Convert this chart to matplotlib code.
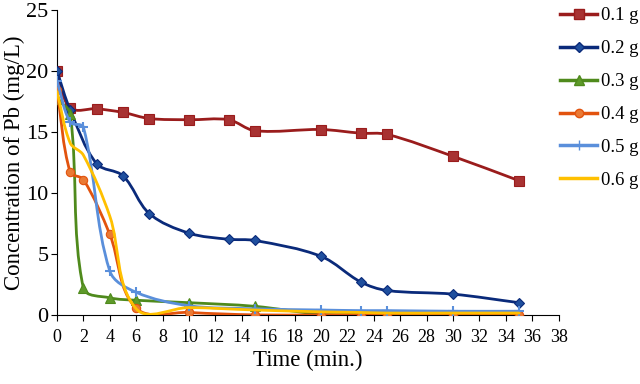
import matplotlib
matplotlib.use("Agg")
import matplotlib.pyplot as plt
from matplotlib.path import Path
import matplotlib.patches as mpatches
from matplotlib.lines import Line2D
import numpy as np

plt.rcParams["font.family"] = ["Liberation Serif", "DejaVu Serif"]

# sampling times (min.)
t_a = [0, 1, 3, 5, 7, 10, 13, 15, 20, 23, 25, 30, 35]
t_b = [0, 1, 2, 4, 6, 10, 15, 20, 23, 25, 30, 35]

# Pb concentration (mg/L) per adsorbent dose
c_01 = [20.0, 17.0, 16.9, 16.6, 16.1, 16.0, 16.0, 15.1, 15.2, 14.9, 14.8, 13.0, 11.0]
c_02 = [20.0, 16.8, 12.4, 11.4, 8.3, 6.7, 6.2, 6.1, 4.8, 2.7, 2.0, 1.7, 1.0]
c_03 = [17.7, 16.5, 2.2, 1.4, 1.2, 1.0, 0.7, 0.05, 0.05, 0.05, 0.0, 0.0]
c_04 = [18.4, 11.7, 11.1, 6.6, 0.55, 0.2, 0.0, 0.0, 0.0, 0.0, 0.0, 0.0]
c_05 = [19.2, 15.8, 15.4, 3.6, 1.85, 0.75, 0.5, 0.4, 0.35, 0.35, 0.3, 0.3]
c_06 = [18.3, 14.1, 13.1, 8.1, 0.5, 0.6, 0.4, 0.25, 0.2, 0.15, 0.15, 0.15]

labels = ["0.1 g", "0.2 g", "0.3 g", "0.4 g", "0.5 g", "0.6 g"]

series = [
    (t_a, c_01, "#9A1C1C", "s", "#A83232", 6.5),
    (t_a, c_02, "#0A2A7A", "D", "#1F4F9E", 5.0),
    (t_b, c_03, "#4F8A1C", "^", "#5E9A2A", 6.5),
    (t_b, c_04, "#E2530E", "o", "#EA7A35", 6.0),
    (t_b, c_05, "#5A8FDB", "+", "#5A8FDB", 7.0),
    (t_b, c_06, "#FFC000", None, "#FFC000", 0),
]

YS = 12.2 / 13.2  # y px per unit / x px per unit, to work near screen space


def smooth_path(x, y):
    # smoothed line: cubic Bezier through each point, tangent handles
    # scaled by the neighbouring segment length (less overshoot)
    p = np.column_stack([x, np.asarray(y, float) * YS]).astype(float)
    n = len(p)
    tang = []
    for i in range(n):
        a = p[i - 1] if i > 0 else p[i]
        b = p[i + 1] if i + 1 < n else p[i]
        d = b - a
        nd = np.hypot(*d)
        tang.append(d / nd if nd > 0 else d)
    verts = [p[0]]
    codes = [Path.MOVETO]
    for i in range(n - 1):
        L = np.hypot(*(p[i + 1] - p[i]))
        c1 = p[i] + tang[i] * L / 3.0
        c2 = p[i + 1] - tang[i + 1] * L / 3.0
        verts += [c1, c2, p[i + 1]]
        codes += [Path.CURVE4] * 3
    verts = np.array(verts)
    verts[:, 1] /= YS
    return Path(verts, codes)


fig = plt.figure(figsize=(6.4, 3.84), dpi=100)
ax = fig.add_axes([0.089, 0.180, 0.784, 0.794])

handles = []
for k, (tx, cy, col, mk, mfc, ms) in enumerate(series):
    patch = mpatches.PathPatch(smooth_path(tx, cy), facecolor="none",
                               edgecolor=col, lw=2.0, zorder=2 + k,
                               capstyle="round", joinstyle="round")
    ax.add_patch(patch)
    if mk:
        mew = 1.5 if mk == "+" else 0.8
        ax.plot(tx, cy, linestyle="none", marker=mk, markersize=ms,
                markerfacecolor=mfc, markeredgecolor=col, mew=mew,
                zorder=2.5 + k)
    handles.append(Line2D([], [], color=col, lw=2.5, marker=mk,
                          markersize=ms, markerfacecolor=mfc,
                          markeredgecolor=col))

ax.set_xlim(0, 38)
ax.set_ylim(0, 25)
ax.set_xticks(range(0, 39, 2))
ax.set_yticks(range(0, 26, 5))
ax.spines["top"].set_visible(False)
ax.spines["right"].set_visible(False)
ax.tick_params(axis="x", direction="out", length=4, labelsize=13, pad=6)
ax.tick_params(axis="y", direction="out", length=4, labelsize=16, pad=2)
ax.set_xlabel("Time (min.)", fontsize=16.5, labelpad=3)
ax.set_ylabel("Concentration of Pb (mg/L)", fontsize=16.5, labelpad=1)

fig.legend(handles, labels, loc="upper left", bbox_to_anchor=(0.852, 1.02),
           frameon=False, fontsize=13.5, handlelength=1.95, handletextpad=0.2,
           labelspacing=0.84, borderpad=0.3)

fig.savefig("out.png", dpi=100, facecolor="white")
